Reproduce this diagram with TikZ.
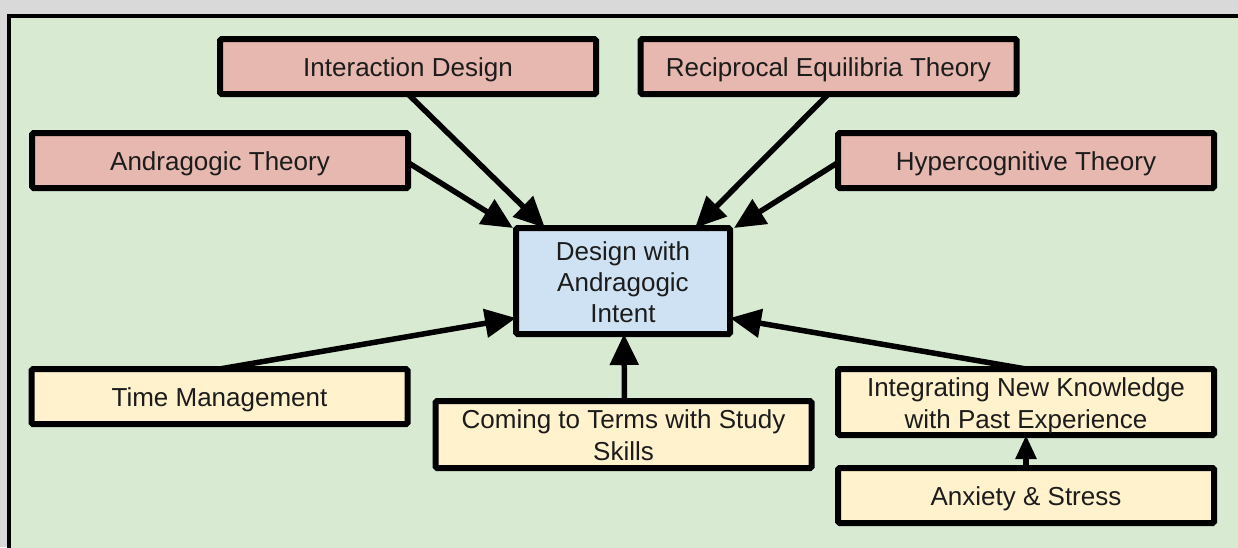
\documentclass[tikz,border=0pt]{standalone}
\usepackage{fontspec}
\setmainfont{Liberation Sans}
\usetikzlibrary{arrows.meta}
\definecolor{pagegray}{HTML}{D9D9D9}
\definecolor{panelgreen}{HTML}{D9EAD3}
\definecolor{theoryred}{HTML}{E6B8AF}
\definecolor{centerblue}{HTML}{CFE2F3}
\definecolor{factoryellow}{HTML}{FFF2CC}
\definecolor{inktext}{HTML}{1C1C1C}
\tikzset{
  box/.style={draw=black, line width=6pt, rounded corners=1.5pt, outer sep=0pt,
    inner sep=0pt, align=center, text=inktext,
    font=\fontsize{26}{32}\selectfont},
  % the text box of a multi-line node has its baseline on the last line
  oneline/.style={text height=26pt, text depth=6pt},
  twolines/.style={text height=58pt, text depth=6pt},
  threelines/.style={text height=88pt, text depth=6pt},
  theory/.style={box, oneline, fill=theoryred, minimum width=376pt, minimum height=55pt},
  factor/.style={box, fill=factoryellow, minimum width=376pt},
  focus/.style={box, threelines, fill=centerblue, minimum width=214pt, minimum height=106pt,
    font=\fontsize{26}{31}\selectfont},
  link/.style={line width=5.5pt, -{Triangle[length=31pt,width=28pt]}},
  smalllink/.style={line width=5.5pt, -{Triangle[length=24pt,width=20pt]}}
}
\begin{document}
\begin{tikzpicture}[x=1pt,y=-1pt]
\useasboundingbox (0,0) rectangle (1238,547);
% page and panel
\fill[pagegray] (0,0) rectangle (1238,547);
\draw[fill=panelgreen, line width=4pt] (9,15.5) rectangle (1260,570);

% theory boxes
\node[theory] (id)  at (408,66.5)   {Interaction Design};
\node[theory] (ret) at (828.5,66.5) {Reciprocal Equilibria Theory};
\node[theory] (at)  at (220,160.5)  {Andragogic Theory};
\node[theory] (ht)  at (1026,160.5) {Hypercognitive Theory};

% central box
\node[focus] (dai) at (623,281) {Design with\\Andragogic\\Intent};

% factor boxes
\node[factor, oneline,  minimum height=55pt] (tm) at (219.5,396.5) {Time Management};
\node[factor, twolines, minimum height=67pt] (ct) at (623.5,434.5) {Coming to Terms with Study\\Skills};
\node[factor, twolines, minimum height=66pt] (in) at (1026,402)    {Integrating New Knowledge\\with Past Experience};
\node[factor, oneline,  minimum height=55pt] (ax) at (1026,495.5)  {Anxiety \& Stress};

% connectors
\draw[link] (id.south) -- ([xshift=29pt]dai.north west);
\draw[link] ([yshift=-2pt]at.east) -- ([xshift=-3pt]dai.north west);
\draw[link] (ret.south) -- ([xshift=-35pt]dai.north east);
\draw[link] ([yshift=-2pt]ht.west) -- ([xshift=4pt]dai.north east);
\draw[link] (tm.north) -- ([yshift=16pt]dai.south west);
\draw[link] ([xshift=1pt]ct.north) -- ([xshift=1pt]dai.south);
\draw[link] (in.north) -- ([yshift=16pt]dai.south east);
\draw[smalllink] (ax.north) -- (in.south);
\end{tikzpicture}
\end{document}
